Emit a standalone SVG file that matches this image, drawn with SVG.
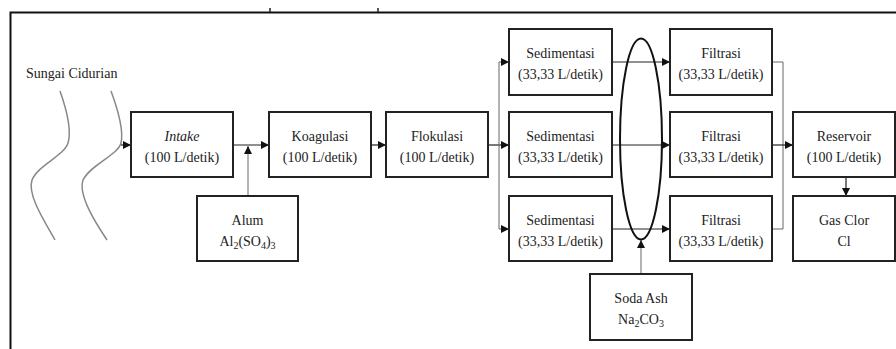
<svg xmlns="http://www.w3.org/2000/svg" width="896" height="349" viewBox="0 0 896 349" font-family="Liberation Serif, serif" font-size="14">
<style>
.box{fill:#fff;stroke:#222;stroke-width:2}
.t{fill:#222;text-anchor:middle}
.c{fill:none;stroke:#222;stroke-width:1.2}
.g{fill:none;stroke:#666;stroke-width:1}
.river{fill:none;stroke:#888;stroke-width:1.5}
</style>
<defs>
<marker id="ah" markerUnits="userSpaceOnUse" markerWidth="9" markerHeight="9" refX="8" refY="4" orient="auto">
<path d="M0,0 L8,4 L0,8 z" fill="#111"/>
</marker>
</defs>
<rect width="896" height="349" fill="#fff"/>
<path d="M10.5,349 V12.5 H896" fill="none" stroke="#111" stroke-width="2"/>
<path d="M270,8 V12 M378,8 V12" stroke="#222" stroke-width="1.5"/>
<g id="river">
<text x="26" y="78" class="t" font-family="Liberation Serif" style="text-anchor:start">Sungai Cidurian</text>
<path class="river" d="M60,91 C66,108 72,130 68,143 C64,156 38,165 32,180 C27,195 45,222 55,240"/>
<path class="river" d="M111,91 C118,110 124,130 121,143 C118,155 90,165 83,180 C78,195 95,222 107,240"/>
</g>
<g id="connectors">
<path class="c" d="M121,145 H131" marker-end="url(#ah)"/>
<path class="c" d="M233,145 H269" marker-end="url(#ah)"/>
<path class="g" d="M248,196 V146" marker-end="url(#ah)"/>
<path class="c" d="M371,145 H386" marker-end="url(#ah)"/>
<path class="c" d="M488,145 H509" marker-end="url(#ah)" stroke-width="2"/>
<path class="g" d="M499,62 V229"/>
<path class="g" d="M499,62 H509" marker-end="url(#ah)"/>
<path class="g" d="M499,229 H509" marker-end="url(#ah)"/>
<path class="c" d="M612,62 H670" marker-end="url(#ah)"/>
<path class="c" d="M612,145 H670" marker-end="url(#ah)"/>
<path class="c" d="M612,229 H670" marker-end="url(#ah)"/>
<path class="g" d="M772,62 H783 V229 H772"/>
<path class="c" d="M772,145 H793" marker-end="url(#ah)"/>
<path class="c" d="M846,177 V196" marker-end="url(#ah)"/>
<path class="g" d="M641,274 V240" marker-end="url(#ah)"/>
<ellipse cx="641" cy="139" rx="21" ry="100.5" fill="none" stroke="#111" stroke-width="2"/>
</g>
<g id="intake"><rect class="box" x="131" y="112" width="102" height="65"/><text class="t" x="182" y="141" font-style="italic">Intake</text><text class="t" x="182" y="162">(100 L/detik)</text></g>
<g id="koagulasi"><rect class="box" x="269" y="112" width="102" height="65"/><text class="t" x="320" y="141">Koagulasi</text><text class="t" x="320" y="162">(100 L/detik)</text></g>
<g id="flokulasi"><rect class="box" x="386" y="112" width="102" height="65"/><text class="t" x="437" y="141">Flokulasi</text><text class="t" x="437" y="162">(100 L/detik)</text></g>
<g id="alum"><rect class="box" x="197" y="196" width="101" height="65"/><text class="t" x="247.5" y="225">Alum</text><text class="t" x="247.5" y="246">Al<tspan font-size="10" dy="3">2</tspan><tspan dy="-3">(SO</tspan><tspan font-size="10" dy="3">4</tspan><tspan dy="-3">)</tspan><tspan font-size="10" dy="3">3</tspan></text></g>
<g id="sed1"><rect class="box" x="509" y="29" width="103" height="66"/><text class="t" x="560.5" y="58">Sedimentasi</text><text class="t" x="560.5" y="79">(33,33 L/detik)</text></g>
<g id="sed2"><rect class="box" x="509" y="112" width="103" height="65"/><text class="t" x="560.5" y="141">Sedimentasi</text><text class="t" x="560.5" y="162">(33,33 L/detik)</text></g>
<g id="sed3"><rect class="box" x="509" y="196" width="103" height="65"/><text class="t" x="560.5" y="225">Sedimentasi</text><text class="t" x="560.5" y="246">(33,33 L/detik)</text></g>
<g id="fil1"><rect class="box" x="670" y="29" width="102" height="66"/><text class="t" x="721" y="58">Filtrasi</text><text class="t" x="721" y="79">(33,33 L/detik)</text></g>
<g id="fil2"><rect class="box" x="670" y="112" width="102" height="65"/><text class="t" x="721" y="141">Filtrasi</text><text class="t" x="721" y="162">(33,33 L/detik)</text></g>
<g id="fil3"><rect class="box" x="670" y="196" width="102" height="65"/><text class="t" x="721" y="225">Filtrasi</text><text class="t" x="721" y="246">(33,33 L/detik)</text></g>
<g id="reservoir"><rect class="box" x="793" y="112" width="102" height="65"/><text class="t" x="844" y="141">Reservoir</text><text class="t" x="844" y="162">(100 L/detik)</text></g>
<g id="gasclor"><rect class="box" x="793" y="196" width="102" height="65"/><text class="t" x="844" y="225">Gas Clor</text><text class="t" x="844" y="246">Cl</text></g>
<g id="sodaash"><rect class="box" x="590" y="274" width="102" height="66"/><text class="t" x="641" y="303">Soda Ash</text><text class="t" x="641" y="324">Na<tspan font-size="10" dy="3">2</tspan><tspan dy="-3">CO</tspan><tspan font-size="10" dy="3">3</tspan></text></g>
</svg>
